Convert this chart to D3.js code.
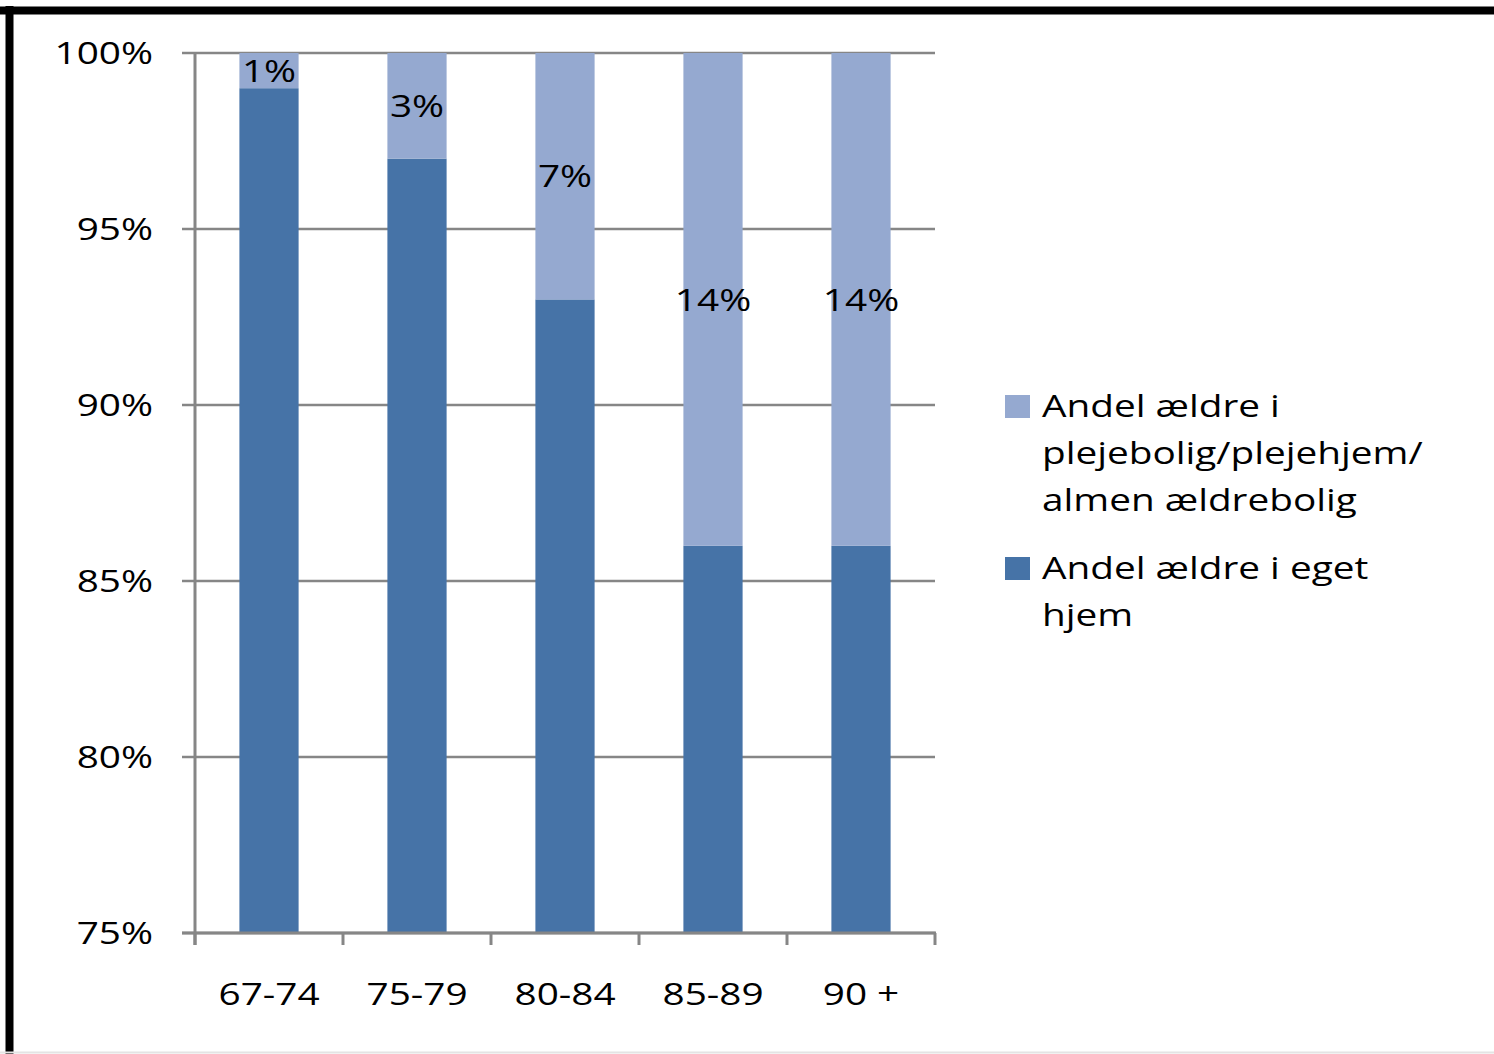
<!DOCTYPE html>
<html>
<head>
<meta charset="utf-8">
<script src="https://cdn.jsdelivr.net/npm/d3@7"></script>
<style>
  body { margin: 0; background: #fff; }
  svg { display: block; font-family: "Open Sans", sans-serif; }
</style>
</head>
<body>
<div id="chart"></div>
<script>
// data
const categories = ["67-74", "75-79", "80-84", "85-89", "90 +"];
const ownHome = [99, 97, 93, 86, 86];          // Andel ældre i eget hjem
const careHome = [1, 3, 7, 14, 14];            // Andel ældre i plejebolig...
const yTicks = [75, 80, 85, 90, 95, 100];
const legendItems = [
  { lines: ["Andel ældre i", "plejebolig/plejehjem/", "almen ældrebolig"], color: "#95a9d0" },
  { lines: ["Andel ældre i eget", "hjem"], color: "#4673a7" }
];

const W = 1494, H = 1054;
const m = { left: 195, top: 53, right: 935, bottom: 933 };
const fs = 31;      // font size
const sx = 1.25;    // the original text is drawn wide

const svg = d3.select("#chart").append("svg")
  .attr("width", W)
  .attr("height", H);

// wide text: place at (x, y) and stretch horizontally
const wide = (sel, xf, yf) => sel
  .attr("transform", (d, i) => `translate(${xf(d, i)},${yf(d, i)}) scale(${sx},1)`)
  .attr("font-size", fs)
  .attr("fill", "#000");

// frame edges (black top/left, faint bottom)
svg.append("line").attr("x1", 0).attr("x2", W).attr("y1", 10.5).attr("y2", 10.5)
  .attr("stroke", "#000").attr("stroke-width", 8);
svg.append("line").attr("x1", 9.5).attr("x2", 9.5).attr("y1", 6).attr("y2", H)
  .attr("stroke", "#000").attr("stroke-width", 8);
svg.append("line").attr("x1", 0).attr("x2", W).attr("y1", 1052.5).attr("y2", 1052.5)
  .attr("stroke", "#e4e4e4").attr("stroke-width", 2);

const x = d3.scaleBand()
  .domain(categories)
  .range([m.left, m.right])
  .paddingInner(0)
  .paddingOuter(0);

const y = d3.scaleLinear()
  .domain([75, 100])
  .range([m.bottom, m.top]);

// gridlines
svg.append("g")
  .selectAll("line")
  .data(yTicks)
  .join("line")
    .attr("x1", m.left - 13)
    .attr("x2", m.right)
    .attr("y1", d => y(d))
    .attr("y2", d => y(d))
    .attr("stroke", "#868686")
    .attr("stroke-width", 2.5);

// y labels
svg.append("g")
  .selectAll("text")
  .data(yTicks)
  .join("text")
    .call(wide, () => 153, d => y(d))
    .attr("dy", "0.36em")
    .attr("text-anchor", "end")
    .text(d => d + "%");

// bars
const barW = x.bandwidth() * 0.4;
const rows = categories.map((c, i) => ({ cat: c, own: ownHome[i], care: careHome[i] }));

svg.append("g")
  .selectAll("rect")
  .data(rows)
  .join("rect")
    .attr("x", d => x(d.cat) + (x.bandwidth() - barW) / 2)
    .attr("y", d => y(d.own))
    .attr("width", barW)
    .attr("height", d => y(75) - y(d.own))
    .attr("fill", legendItems[1].color);

svg.append("g")
  .selectAll("rect")
  .data(rows)
  .join("rect")
    .attr("x", d => x(d.cat) + (x.bandwidth() - barW) / 2)
    .attr("y", d => y(Math.min(100, d.own + d.care)))
    .attr("width", barW)
    .attr("height", d => y(d.own) - y(Math.min(100, d.own + d.care)))
    .attr("fill", legendItems[0].color);

// data labels, centred in the light segment
svg.append("g")
  .selectAll("text")
  .data(rows)
  .join("text")
    .call(wide, d => x(d.cat) + x.bandwidth() / 2, d => y(d.own + d.care / 2))
    .attr("dy", "0.36em")
    .attr("text-anchor", "middle")
    .text(d => d.care + "%");

// x axis line and ticks
const ax = svg.append("g");
ax.append("line")
  .attr("x1", m.left - 13).attr("x2", m.right + 1)
  .attr("y1", m.bottom).attr("y2", m.bottom)
  .attr("stroke", "#868686").attr("stroke-width", 3);
ax.selectAll("line.tick")
  .data(categories.map(c => x(c)).concat([m.right]))
  .join("line")
    .attr("class", "tick")
    .attr("x1", d => d).attr("x2", d => d)
    .attr("y1", m.bottom).attr("y2", m.bottom + 12)
    .attr("stroke", "#868686").attr("stroke-width", 3);

// y axis line
svg.append("line")
  .attr("x1", m.left).attr("x2", m.left)
  .attr("y1", m.top).attr("y2", m.bottom + 12)
  .attr("stroke", "#868686").attr("stroke-width", 3);

// x labels
svg.append("g")
  .selectAll("text")
  .data(categories)
  .join("text")
    .call(wide, d => x(d) + x.bandwidth() / 2, () => 1005)
    .attr("text-anchor", "middle")
    .text(d => d);

// legend
const legendTop = [395, 557];
const lg = svg.append("g");
legendItems.forEach((item, i) => {
  lg.append("rect")
    .attr("x", 1005).attr("y", legendTop[i])
    .attr("width", 25).attr("height", 23)
    .attr("fill", item.color);
  lg.append("g")
    .selectAll("text")
    .data(item.lines)
    .join("text")
      .call(wide, () => 1042, (d, j) => legendTop[i] + 22 + j * 47)
      .text(d => d);
});
</script>
</body>
</html>
